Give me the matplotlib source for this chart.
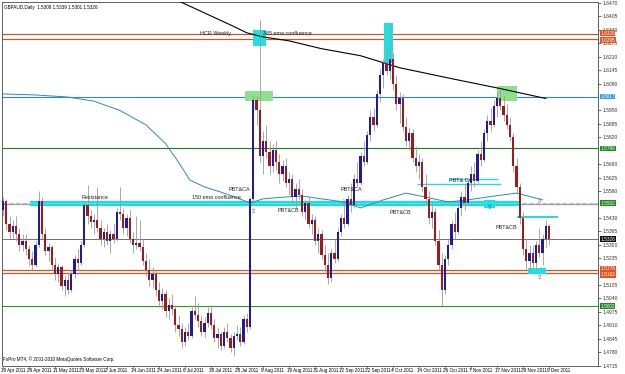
import matplotlib
matplotlib.use("Agg")
import matplotlib.pyplot as plt
import matplotlib.transforms as mtransforms
import numpy as np

plt.rcParams['font.family'] = ['Liberation Sans', 'DejaVu Sans']

# ---------------- data ----------------
title_text = "GBPAUD,Daily  1.5309 1.5339 1.5301 1.5326"
copyright_text = "FxPro MT4, \u00a9 2001-2010 MetaQuotes Software Corp."

date_labels = ["19 Apr 2011", "29 Apr 2011", "11 May 2011", "23 May 2011", "2 Jun 2011",
               "14 Jun 2011", "24 Jun 2011", "6 Jul 2011", "18 Jul 2011", "28 Jul 2011",
               "9 Aug 2011", "19 Aug 2011", "31 Aug 2011", "12 Sep 2011", "22 Sep 2011",
               "4 Oct 2011", "14 Oct 2011", "26 Oct 2011", "7 Nov 2011", "17 Nov 2011",
               "29 Nov 2011", "9 Dec 2011"]
date_label_bars = [0, 8, 16, 24, 32, 40, 48, 56, 64, 72, 80, 88, 96, 104, 112, 120,
                   128, 136, 144, 152, 160, 168]

price_ticks = [1.6470, 1.6405, 1.6340, 1.6275, 1.6210, 1.6145, 1.6080, 1.6015, 1.5950,
               1.5885, 1.5820, 1.5755, 1.5690, 1.5625, 1.5560, 1.5495, 1.5430, 1.5365,
               1.5300, 1.5235, 1.5170, 1.5105, 1.5040, 1.4975, 1.4910, 1.4845, 1.4780,
               1.4715]

opens = [1.5470, 1.5510, 1.5400, 1.5360, 1.5390, 1.5350, 1.5300, 1.5320, 1.5280, 1.5230,
         1.5200, 1.5300, 1.5510, 1.5350, 1.5270, 1.5290, 1.5200, 1.5160, 1.5190, 1.5100,
         1.5130, 1.5080, 1.5160, 1.5230, 1.5210, 1.5300, 1.5490, 1.5440, 1.5410, 1.5420,
         1.5380, 1.5330, 1.5360, 1.5320, 1.5350, 1.5330, 1.5460, 1.5450, 1.5380, 1.5430,
         1.5330, 1.5300, 1.5310, 1.5290, 1.5220, 1.5180, 1.5130, 1.5160, 1.5080, 1.5030,
         1.5060, 1.4980, 1.5010, 1.4990, 1.4910, 1.4890, 1.4830, 1.4880, 1.4860, 1.4980,
         1.4960, 1.4930, 1.4880, 1.4920, 1.4970, 1.4910, 1.4850, 1.4870, 1.4810, 1.4880,
         1.4850, 1.4800, 1.4860, 1.4870, 1.4830, 1.4940, 1.4900, 1.5520, 1.6000, 1.5950,
         1.5730, 1.5800, 1.5750, 1.5680, 1.5760, 1.5700, 1.5640, 1.5680, 1.5600, 1.5620,
         1.5530, 1.5570, 1.5540, 1.5460, 1.5500, 1.5400, 1.5420, 1.5320, 1.5350, 1.5250,
         1.5200, 1.5140, 1.5260, 1.5230, 1.5360, 1.5430, 1.5400, 1.5520, 1.5490, 1.5620,
         1.5600, 1.5730, 1.5700, 1.5830, 1.5920, 1.5880, 1.6030, 1.6120, 1.6180, 1.6140,
         1.6200, 1.6080, 1.5980, 1.6010, 1.5870, 1.5800, 1.5840, 1.5720, 1.5680, 1.5700,
         1.5580, 1.5520, 1.5430, 1.5460, 1.5320, 1.5200, 1.5080, 1.5230, 1.5300, 1.5400,
         1.5360, 1.5480, 1.5530, 1.5500, 1.5600, 1.5640, 1.5610, 1.5740, 1.5710, 1.5840,
         1.5900, 1.5880, 1.5970, 1.6010, 1.5970, 1.5930, 1.5880, 1.5820, 1.5680, 1.5580,
         1.5430, 1.5280, 1.5220, 1.5260, 1.5210, 1.5300, 1.5260, 1.5330, 1.5390]
highs = [1.5530, 1.5520, 1.5440, 1.5420, 1.5440, 1.5380, 1.5350, 1.5350, 1.5300, 1.5270,
         1.5320, 1.5560, 1.5530, 1.5380, 1.5310, 1.5300, 1.5240, 1.5210, 1.5200, 1.5150,
         1.5170, 1.5180, 1.5250, 1.5280, 1.5320, 1.5510, 1.5590, 1.5470, 1.5450, 1.5580,
         1.5420, 1.5380, 1.5400, 1.5370, 1.5400, 1.5480, 1.5580, 1.5480, 1.5450, 1.5470,
         1.5360, 1.5440, 1.5420, 1.5330, 1.5260, 1.5230, 1.5190, 1.5180, 1.5120, 1.5090,
         1.5080, 1.5040, 1.5060, 1.5010, 1.4960, 1.4920, 1.4900, 1.4920, 1.5000, 1.5050,
         1.5020, 1.4960, 1.4950, 1.5000, 1.5010, 1.4940, 1.4900, 1.4880, 1.4900, 1.4920,
         1.4870, 1.4880, 1.4910, 1.4900, 1.4960, 1.4970, 1.5530, 1.6020, 1.6020, 1.6390,
         1.5850, 1.5880, 1.5800, 1.5790, 1.5800, 1.5740, 1.5710, 1.5720, 1.5650, 1.5640,
         1.5600, 1.5620, 1.5570, 1.5520, 1.5530, 1.5450, 1.5440, 1.5380, 1.5370, 1.5300,
         1.5260, 1.5280, 1.5330, 1.5380, 1.5450, 1.5500, 1.5540, 1.5600, 1.5640, 1.5700,
         1.5750, 1.5800, 1.5850, 1.5950, 1.5960, 1.6050, 1.6150, 1.6200, 1.6250, 1.6380,
         1.6230, 1.6120, 1.6040, 1.6030, 1.5920, 1.5870, 1.5860, 1.5780, 1.5740, 1.5720,
         1.5640, 1.5560, 1.5500, 1.5480, 1.5370, 1.5260, 1.5250, 1.5330, 1.5420, 1.5460,
         1.5500, 1.5560, 1.5600, 1.5620, 1.5680, 1.5700, 1.5760, 1.5800, 1.5860, 1.5930,
         1.5960, 1.6000, 1.6040, 1.6060, 1.6020, 1.5980, 1.5920, 1.5840, 1.5720, 1.5600,
         1.5460, 1.5330, 1.5300, 1.5300, 1.5320, 1.5380, 1.5350, 1.5420, 1.5400]
lows = [1.5440, 1.5370, 1.5330, 1.5330, 1.5320, 1.5270, 1.5270, 1.5250, 1.5200, 1.5180,
        1.5190, 1.5290, 1.5330, 1.5250, 1.5220, 1.5180, 1.5130, 1.5120, 1.5080, 1.5050,
        1.5060, 1.5070, 1.5140, 1.5180, 1.5200, 1.5290, 1.5400, 1.5380, 1.5350, 1.5360,
        1.5300, 1.5290, 1.5300, 1.5260, 1.5310, 1.5320, 1.5420, 1.5350, 1.5340, 1.5310,
        1.5260, 1.5280, 1.5270, 1.5200, 1.5150, 1.5100, 1.5090, 1.5050, 1.5000, 1.4990,
        1.4950, 1.4940, 1.4960, 1.4880, 1.4860, 1.4800, 1.4810, 1.4840, 1.4850, 1.4940,
        1.4900, 1.4860, 1.4850, 1.4900, 1.4890, 1.4830, 1.4800, 1.4790, 1.4800, 1.4830,
        1.4780, 1.4760, 1.4840, 1.4810, 1.4820, 1.4880, 1.4890, 1.5500, 1.5880, 1.5700,
        1.5640, 1.5720, 1.5640, 1.5650, 1.5660, 1.5600, 1.5610, 1.5580, 1.5540, 1.5500,
        1.5480, 1.5520, 1.5440, 1.5420, 1.5380, 1.5350, 1.5300, 1.5260, 1.5230, 1.5170,
        1.5110, 1.5120, 1.5210, 1.5220, 1.5340, 1.5380, 1.5390, 1.5460, 1.5480, 1.5580,
        1.5590, 1.5680, 1.5690, 1.5800, 1.5850, 1.5870, 1.5990, 1.6060, 1.6120, 1.6100,
        1.6050, 1.5950, 1.5890, 1.5850, 1.5780, 1.5760, 1.5700, 1.5650, 1.5620, 1.5560,
        1.5500, 1.5400, 1.5380, 1.5300, 1.5180, 1.5010, 1.5060, 1.5200, 1.5280, 1.5330,
        1.5350, 1.5440, 1.5470, 1.5490, 1.5560, 1.5580, 1.5600, 1.5680, 1.5700, 1.5800,
        1.5850, 1.5870, 1.5920, 1.5950, 1.5900, 1.5860, 1.5800, 1.5650, 1.5550, 1.5400,
        1.5250, 1.5180, 1.5170, 1.5190, 1.5180, 1.5240, 1.5200, 1.5290, 1.5300]
closes = [1.5510, 1.5400, 1.5360, 1.5390, 1.5350, 1.5300, 1.5320, 1.5280, 1.5230, 1.5200,
          1.5300, 1.5510, 1.5350, 1.5270, 1.5290, 1.5200, 1.5160, 1.5190, 1.5100, 1.5130,
          1.5080, 1.5160, 1.5230, 1.5210, 1.5300, 1.5490, 1.5440, 1.5410, 1.5420, 1.5380,
          1.5330, 1.5360, 1.5320, 1.5350, 1.5330, 1.5460, 1.5450, 1.5380, 1.5430, 1.5330,
          1.5300, 1.5310, 1.5290, 1.5220, 1.5180, 1.5130, 1.5160, 1.5080, 1.5030, 1.5060,
          1.4980, 1.5010, 1.4990, 1.4910, 1.4890, 1.4830, 1.4880, 1.4860, 1.4980, 1.4960,
          1.4930, 1.4880, 1.4920, 1.4970, 1.4910, 1.4850, 1.4870, 1.4810, 1.4880, 1.4850,
          1.4800, 1.4860, 1.4870, 1.4830, 1.4940, 1.4900, 1.5520, 1.6000, 1.5950, 1.5730,
          1.5800, 1.5750, 1.5680, 1.5760, 1.5700, 1.5640, 1.5680, 1.5600, 1.5620, 1.5530,
          1.5570, 1.5540, 1.5460, 1.5500, 1.5400, 1.5420, 1.5320, 1.5350, 1.5250, 1.5200,
          1.5140, 1.5260, 1.5230, 1.5360, 1.5430, 1.5400, 1.5520, 1.5490, 1.5620, 1.5600,
          1.5730, 1.5700, 1.5830, 1.5920, 1.5880, 1.6030, 1.6120, 1.6180, 1.6140, 1.6200,
          1.6080, 1.5980, 1.6010, 1.5870, 1.5800, 1.5840, 1.5720, 1.5680, 1.5700, 1.5580,
          1.5520, 1.5430, 1.5460, 1.5320, 1.5200, 1.5080, 1.5230, 1.5300, 1.5400, 1.5360,
          1.5480, 1.5530, 1.5500, 1.5600, 1.5640, 1.5610, 1.5740, 1.5710, 1.5840, 1.5900,
          1.5880, 1.5970, 1.6010, 1.5970, 1.5930, 1.5880, 1.5820, 1.5680, 1.5580, 1.5430,
          1.5280, 1.5220, 1.5260, 1.5210, 1.5300, 1.5260, 1.5330, 1.5390, 1.5326]

# moving averages (sampled at bars)
ema_long_bars = [54, 62, 70, 75, 80, 88, 98, 110, 122, 138, 153, 167]
ema_long_vals = [1.6480, 1.6422, 1.6364, 1.6326, 1.6306, 1.6287, 1.6249, 1.6215, 1.6157,
                 1.6104, 1.6056, 1.6008]
ema_mid_bars = [0, 10, 20, 28, 36, 44, 50, 54, 57.5, 62, 67, 72, 76, 80, 86, 92, 98, 105,
                110, 117, 124, 130, 137, 143, 149, 158, 166]
ema_mid_vals = [1.6030, 1.6025, 1.6015, 1.5995, 1.5950, 1.5880, 1.5790, 1.5700, 1.5613,
                1.5580, 1.5555, 1.5527, 1.5502, 1.5522, 1.5530, 1.5536, 1.5522, 1.5507,
                1.5478, 1.5517, 1.5550, 1.5531, 1.5507, 1.5517, 1.5531, 1.5550, 1.5517]

# horizontal levels
levels = [1.6320, 1.6295, 1.6017, 1.5766, 1.5502, 1.5326, 1.5176, 1.5162, 1.5002]

# ---------------- figure ----------------
W, H = 625, 374
fig = plt.figure(figsize=(W / 100, H / 100), dpi=100)
fig.patch.set_facecolor("white")
ax_l, ax_r, ax_t, ax_b = 2, 598, 2, 366
ax = fig.add_axes([ax_l / W, 1 - ax_b / H, (ax_r - ax_l) / W, (ax_b - ax_t) / H])
px_per_bar = 3.25
x0_px = 3
xmin = (ax_l - x0_px) / px_per_bar
xmax = (ax_r - x0_px) / px_per_bar
ax.set_xlim(xmin, xmax)
ax.set_ylim(1.4713, 1.6475)
ax.set_facecolor("white")
for s in ax.spines.values():
    s.set_color("#606060")
    s.set_linewidth(0.7)

FS = 3.3

# horizontal lines
orange = "#c8582a"
ax.axhline(levels[0], color=orange, lw=0.9, zorder=1)
ax.axhline(levels[1], color=orange, lw=0.9, zorder=1)
ax.axhline(levels[2], color="#2f86c8", lw=0.8, zorder=1)
ax.axhline(levels[3], color="#1f7a1f", lw=0.8, zorder=1)
ax.axhline(levels[4] - 0.0007, color="#b08ad8", lw=0.9, zorder=1)
ax.axhline(levels[4] + 0.0002, color="#9ad29a", lw=0.8, ls=(0, (4, 2)), zorder=1)
ax.axhline(levels[5], color="#707070", lw=0.7, zorder=1)
ax.axhline(levels[6], color=orange, lw=0.9, zorder=1)
ax.axhline(levels[7], color=orange, lw=0.9, zorder=1)
ax.axhline(levels[8], color="#2a9a2a", lw=0.8, zorder=1)

# cyan resistance band
ax.fill_between([8.3, 159], 1.5489, 1.5514, color="#19dede", lw=0, zorder=2)
ax.plot([8.3, 159], [1.5501, 1.5501], color="#c0f5f5", lw=0.4, ls=(0, (3, 2)), zorder=2)

# highlight boxes
def box(i0, i1, p0, p1, color):
    ax.fill_between([i0, i1], p0, p1, color=color, lw=0, zorder=2)

box(77, 81, 1.6263, 1.6340, "#22e0e0")
box(117.2, 120, 1.6181, 1.6374, "#22e0e0")
box(74.5, 83, 1.5998, 1.6042, "#8de08d")
box(152, 158.2, 1.5998, 1.6066, "#8de08d")
box(148, 151.5, 1.5479, 1.5517, "#22e0e0")
box(161.5, 167, 1.5160, 1.5188, "#22e0e0")
ax.plot([127.7, 152.9], [1.5594, 1.5594], color="#22d8e8", lw=1.0, zorder=2)
ax.plot([137.5, 152], [1.5618, 1.5618], color="#22d8e8", lw=1.0, zorder=2)
ax.plot([158.5, 170.5], [1.5435, 1.5435], color="#22d8e8", lw=1.4, zorder=2)

# EMA lines
ax.plot(ema_long_bars, ema_long_vals, color="black", lw=0.8, zorder=3)
ax.plot(ema_mid_bars, ema_mid_vals, color="#2f86c8", lw=0.7, zorder=3)

# candles
idx = np.arange(len(closes))
o = np.array(opens); c = np.array(closes); h = np.array(highs); l = np.array(lows)
ax.vlines(idx, l, h, color="#9a9a9a", lw=0.6, zorder=4)
up = c >= o
ax.bar(idx[up], (c - o)[up], bottom=o[up], width=0.62, color="#1c1c9c", lw=0, zorder=5)
ax.bar(idx[~up], (o - c)[~up], bottom=c[~up], width=0.62, color="#9c1c1c", lw=0, zorder=5)

# annotations
txt = dict(fontsize=3.9, color="#222222", va="center", ha="left", zorder=6)
ax.text(60.6, 1.6321, "HCR Weekly", **txt)
ax.text(80.0, 1.6323, "365 ema confluence", **txt)
ax.text(24.3, 1.5531, "Resistance", **txt)
ax.text(58.2, 1.5531, "150 ema confluence", **txt)
ax.text(69.5, 1.5568, "PBT&CA", **txt)
ax.text(84.6, 1.5464, "PBT&CB", **txt)
ax.text(103.7, 1.5568, "PBT&CA", **txt)
ax.text(118.8, 1.5454, "PBT&CB", **txt)
ax.text(137.2, 1.5610, "PBT& CA", **txt)
ax.text(151.4, 1.5382, "PBT&CB", **txt)
arrow = dict(fontsize=4.5, va="center", ha="center", zorder=6, family="DejaVu Sans")
ax.text(77, 1.5462, "\u21e7", color="#4040c0", **arrow)
ax.text(104.8, 1.5505, "\u21e9", color="#c06030", **arrow)
ax.text(149.8, 1.5478, "\u21e7", color="#4040c0", **arrow)
ax.text(165.2, 1.5510, "\u21e9", color="#c04040", **arrow)
ax.text(165.0, 1.5140, "\u21e7", color="#4040c0", **arrow)

# title & copyright
ax.text(0.004, 0.993, title_text, transform=ax.transAxes, fontsize=3.3, va="top", ha="left")
ax.text(0.002, 0.012, copyright_text, transform=ax.transAxes, fontsize=3.3, va="bottom", ha="left")

# x date labels
ax.set_xticks([])
trans = mtransforms.blended_transform_factory(ax.transData, ax.transAxes)
for b, lab in zip(date_label_bars, date_labels):
    ax.text(b - 0.6, -0.005, lab, transform=trans, fontsize=FS, va="top", ha="left", clip_on=False)
    ax.plot([b, b], [0, -0.008], transform=trans, color="#606060", lw=0.5, clip_on=False)

# highlighted price labels (value, box colour, label offset)
hl = [(1.6320, "#e8501e", 0.0004), (1.6295, "#e8501e", -0.0004), (1.6017, "#3a9ae8", 0.0),
      (1.5766, "#1f8a1f", 0.0), (1.5502, "#1f8a1f", 0.0), (1.5326, "#101010", 0.0),
      (1.5176, "#e8501e", 0.0007), (1.5162, "#e8501e", -0.0007), (1.5002, "#1f8a1f", 0.0)]

# y price labels on right (skip those hidden under highlighted labels)
shown = [p for p in price_ticks if min(abs(p - q[0]) for q in hl) > 0.0012]
ax.yaxis.tick_right()
ax.set_yticks(shown)
ax.set_yticklabels(["%.4f" % p for p in shown])
ax.tick_params(axis="y", labelsize=3.6, length=2, width=0.5, pad=1, colors="#333333")

ytr = mtransforms.blended_transform_factory(ax.transAxes, ax.transData)
for p, bg, off in hl:
    ax.text(1.004, p + off, "%.4f" % p, transform=ytr, fontsize=3.4, color="white", va="center",
            ha="left", clip_on=False, zorder=10,
            bbox=dict(boxstyle="square,pad=0.08", facecolor=bg, edgecolor="none"))

fig.savefig("out.png", dpi=100, facecolor="white")
